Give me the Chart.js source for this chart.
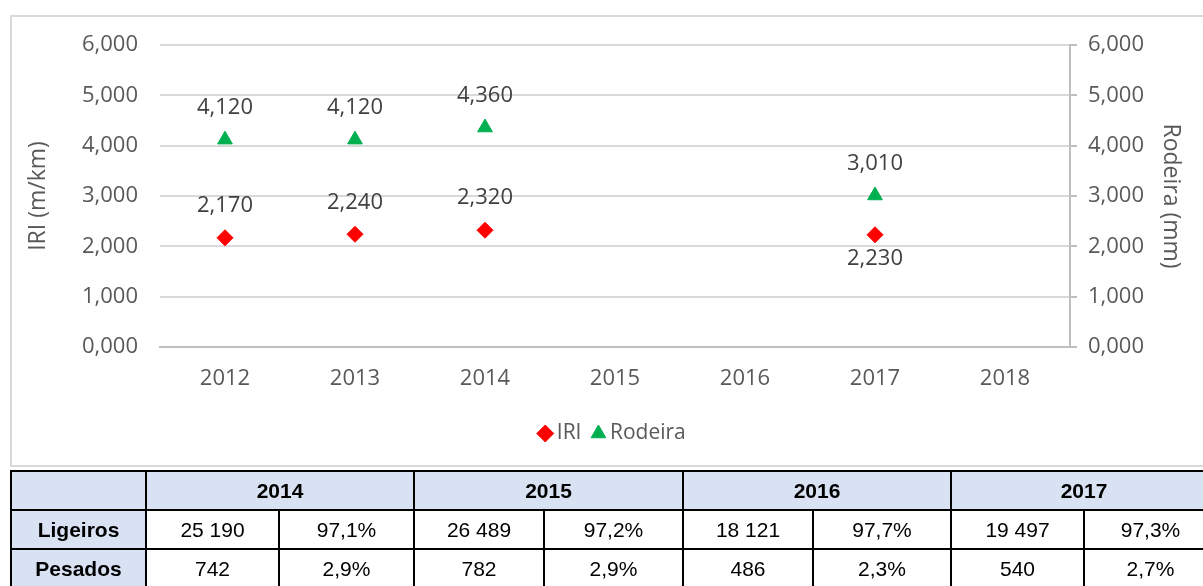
<!DOCTYPE html>
<html>
<head>
<meta charset="utf-8">
<script src="https://cdn.jsdelivr.net/npm/chart.js@4"></script>
<style>
  html, body { margin: 0; padding: 0; background: #fff; }
  body { width: 1203px; height: 586px; overflow: hidden; position: relative; }
  #chart-wrap { position: absolute; left: 0; top: 0; width: 1203px; height: 468px; }
  #frame { position: absolute; left: 10px; top: 15px; width: 1210px; height: 452px;
           border: 2px solid #d9d9d9; box-sizing: border-box; pointer-events: none; }
  table { position: absolute; left: 10px; top: 470px; border-collapse: collapse;
          font-family: "Liberation Sans", Arial, sans-serif; font-size: 21px; color: #000;
          table-layout: fixed; width: 1206px; }
  td { border: 2px solid #000; height: 37px; text-align: center; padding: 0; }
  td.hd { background: #d9e2f3; font-weight: bold; }
  td.sep { border-left-color: #555; }
</style>
</head>
<body>
<div id="chart-wrap"><canvas id="chart"></canvas></div>
<div id="frame"></div>
<table id="tbl"></table>
<script>
'use strict';

// chart data
const years = ['2012', '2013', '2014', '2015', '2016', '2017', '2018'];
const iri = [2.17, 2.24, 2.32, null, null, 2.23, null];
const rodeira = [4.12, 4.12, 4.36, null, null, 3.01, null];
const yTicks = [0, 1, 2, 3, 4, 5, 6];

// table data
const tableYears = ['2014', '2015', '2016', '2017'];
const ligeirosCount = ['25 190', '26 489', '18 121', '19 497'];
const ligeirosPct = ['97,1%', '97,2%', '97,7%', '97,3%'];
const pesadosCount = ['742', '782', '486', '540'];
const pesadosPct = ['2,9%', '2,9%', '2,3%', '2,7%'];

const fmt = v => v.toFixed(3).replace('.', ',');
const FONT = '"Open Sans", "Noto Sans", sans-serif';

// labels drawn under the point instead of above it
const labelsBelow = { IRI: ['2017'] };

const valueLabels = {
  id: 'valueLabels',
  afterDatasetsDraw(chart) {
    const ctx = chart.ctx;
    ctx.save();
    ctx.font = `22px ${FONT}`;
    ctx.fillStyle = '#404040';
    ctx.textAlign = 'center';
    ctx.textBaseline = 'middle';
    chart.data.datasets.forEach((ds, i) => {
      const meta = chart.getDatasetMeta(i);
      meta.data.forEach((pt, j) => {
        const v = ds.data[j];
        if (v == null) return;
        const below = (labelsBelow[ds.label] || []).includes(chart.data.labels[j]);
        ctx.fillText(fmt(v), pt.x, below ? pt.y + 24 : pt.y - 32);
      });
    });
    ctx.restore();
  }
};

// center the legend on the plot area rather than the whole canvas
const legendOnPlot = {
  id: 'legendOnPlot',
  afterLayout(chart) {
    const l = chart.legend;
    const area = chart.chartArea;
    const shift = ((area.left + area.right) - (l.left + l.right)) / 2;
    l.left += shift;
    l.right += shift;
  }
};

const tickFont = { family: FONT, size: 22 };

new Chart(document.getElementById('chart'), {
  type: 'line',
  data: {
    labels: years,
    datasets: [{
      label: 'IRI',
      data: iri,
      yAxisID: 'y',
      showLine: false,
      pointStyle: 'rectRot',
      pointRadius: 8,
      pointBackgroundColor: '#ff0000',
      pointBorderColor: '#ff0000',
      borderColor: '#ff0000',
      backgroundColor: '#ff0000'
    }, {
      label: 'Rodeira',
      data: rodeira,
      yAxisID: 'y1',
      showLine: false,
      pointStyle: 'triangle',
      pointRadius: 8.5,
      pointBackgroundColor: '#00b050',
      pointBorderColor: '#00b050',
      borderColor: '#00b050',
      backgroundColor: '#00b050'
    }]
  },
  options: {
    responsive: true,
    maintainAspectRatio: false,
    animation: false,
    layout: { padding: { top: 45, left: 0, right: 0, bottom: 14 } },
    plugins: {
      tooltip: { enabled: false },
      legend: {
        position: 'bottom',
        labels: {
          usePointStyle: true,
          boxWidth: 2,
          boxHeight: 12,
          padding: 16,
          color: '#595959',
          font: { family: FONT, size: 21 }
        }
      }
    },
    scales: {
      x: {
        offset: true,
        grid: { display: false, drawTicks: false },
        border: { display: true, color: '#bfbfbf', width: 2 },
        ticks: { color: '#595959', font: tickFont, padding: 19 },
        afterFit: s => { s.height = 60; }
      },
      y: {
        position: 'left',
        min: 0, max: 6,
        afterBuildTicks: s => { s.ticks = yTicks.map(v => ({ value: v })); },
        grid: { color: '#d9d9d9', lineWidth: 2, drawTicks: false },
        border: { display: false },
        ticks: { color: '#595959', font: tickFont, padding: 22, callback: v => fmt(v) },
        title: { display: true, text: 'IRI (m/km)', color: '#595959',
                 font: { family: FONT, size: 23 }, padding: { top: 25, bottom: 0 } },
        afterFit: s => { s.width = 160; }
      },
      y1: {
        position: 'right',
        min: 0, max: 6,
        afterBuildTicks: s => { s.ticks = yTicks.map(v => ({ value: v })); },
        grid: { drawOnChartArea: false, color: '#bfbfbf', lineWidth: 2, tickLength: 7 },
        border: { display: true, color: '#bfbfbf', width: 2 },
        ticks: { color: '#595959', font: tickFont, padding: 11, callback: v => fmt(v) },
        title: { display: true, text: 'Rodeira (mm)', color: '#595959',
                 font: { family: FONT, size: 23 }, padding: { top: 19, bottom: 0 } },
        afterFit: s => { s.width = 133; }
      }
    }
  },
  plugins: [valueLabels, legendOnPlot]
});

// table below the chart
const colW = [135, 133, 135, 130, 139, 130, 138, 133, 133];
const tbl = document.getElementById('tbl');
let html = '<colgroup>' + colW.map(w => `<col style="width:${w}px">`).join('') + '</colgroup>';
html += '<tr><td class="hd"></td>' + tableYears.map(y => `<td class="hd sep" colspan="2">${y}</td>`).join('') + '</tr>';
const row = (name, counts, pcts) =>
  `<tr><td class="hd">${name}</td>` +
  counts.map((c, i) => `<td class="sep">${c}</td><td class="sep">${pcts[i]}</td>`).join('') + '</tr>';
html += row('Ligeiros', ligeirosCount, ligeirosPct);
html += row('Pesados', pesadosCount, pesadosPct);
tbl.innerHTML = html;
</script>
</body>
</html>
